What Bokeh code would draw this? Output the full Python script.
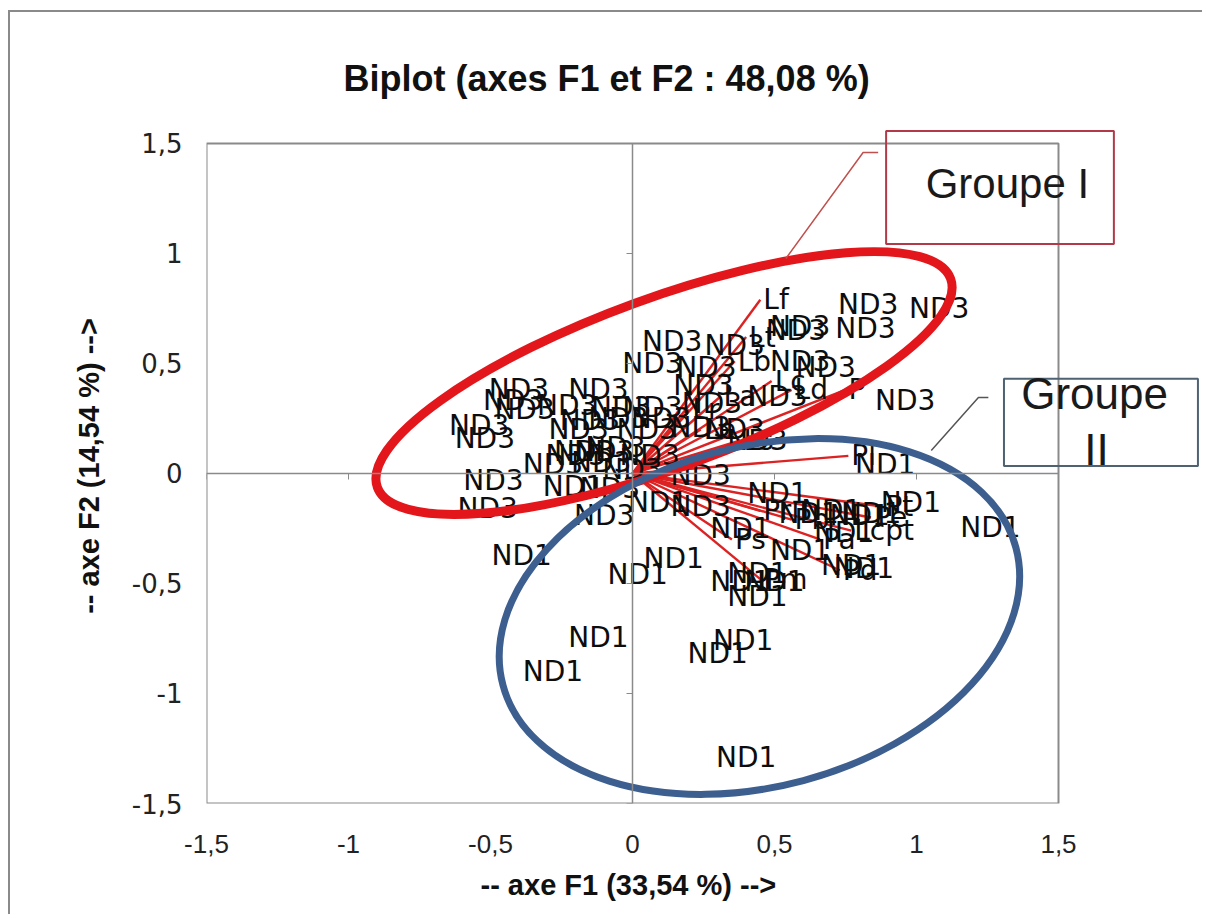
import math
from bokeh.plotting import figure
from bokeh.models import Range1d, LinearAxis, FixedTicker, Label, BoxAnnotation, Title
from bokeh.core.properties import value
from bokeh.embed import file_html
from bokeh.resources import INLINE

TITLE = "Biplot (axes F1 et F2 : 48,08 %)"
X_LABEL = "-- axe F1 (33,54 %) -->"
Y_LABEL = "-- axe F2 (14,54 %) -->"
tick_values = [-1.5, -1.0, -0.5, 0.0, 0.5, 1.0, 1.5]
tick_labels = ["-1,5", "-1", "-0,5", "0", "0,5", "1", "1,5"]

# observations labelled ND3
nd3_x = [1.08, 0.83, 0.59, 0.575, 0.82, 0.14, 0.36, 0.07, 0.26, 0.59, 0.68, 0.25, 0.51, 0.96,
         -0.40, -0.12, -0.42, -0.38, -0.23, -0.04, 0.07, 0.28, -0.54, -0.19, 0.24, 0.36,
         -0.52, 0.44, -0.17, -0.06, 0.06, -0.28, -0.11, -0.49, 0.24, -0.08, 0.24, -0.51,
         -0.10, -0.15, -0.05, 0.05, 0.10, -0.10, 0.00, -0.20]
nd3_y = [0.75, 0.77, 0.67, 0.65, 0.66, 0.60, 0.58, 0.50, 0.48, 0.51, 0.48, 0.40, 0.35, 0.33,
         0.38, 0.38, 0.33, 0.29, 0.31, 0.30, 0.30, 0.32, 0.22, 0.20, 0.21, 0.20,
         0.16, 0.15, 0.10, 0.12, 0.08, 0.04, 0.05, -0.03, -0.01, -0.07, -0.15, -0.16,
         -0.19, 0.24, 0.25, 0.20, 0.25, 0.10, 0.02, 0.08]

# observations labelled ND1
nd1_x = [0.89, 0.98, 1.26, 0.51, 0.70, 0.84, 0.38, 0.62, 0.745, 0.59, 0.77, 0.815, 0.38,
         0.50, 0.44, 0.44, 0.145, 0.018, -0.39, -0.12, -0.28, 0.39, 0.30, 0.40, -0.21,
         0.09, 0.80]
nd1_y = [0.04, -0.13, -0.245, -0.09, -0.17, -0.18, -0.25, -0.18, -0.27, -0.35, -0.42, -0.43,
         -0.49, -0.49, -0.455, -0.56, -0.385, -0.46, -0.375, -0.745, -0.90, -0.76, -0.82,
         -1.29, -0.06, -0.13, -0.19]

# variables (vectors from origin)
var_names = ["Lf", "Lt", "Lb", "Lc", "Ld", "P", "La", "Lr", "Le", "Ls", "Pl",
             "Pt", "Pe", "Lcpt", "Pa", "Pb", "Pr", "Pd", "Pm", "Ps"]
var_x = [0.45, 0.40, 0.36, 0.49, 0.56, 0.75, 0.31, 0.20, 0.24, 0.38, 0.76,
         0.88, 0.84, 0.77, 0.66, 0.56, 0.45, 0.73, 0.45, 0.35]
var_y = [0.79, 0.62, 0.51, 0.42, 0.38, 0.38, 0.35, 0.29, 0.20, 0.15, 0.08,
         -0.15, -0.20, -0.26, -0.30, -0.21, -0.17, -0.44, -0.48, -0.30]

# group ellipses (width in x units, height in y units, angle in degrees on screen)
group_names = ["Groupe I", "Groupe II"]
group_cx = [0.111, 0.447]
group_cy = [0.411, -0.650]
group_w = [2.148, 1.87]
group_h = [0.773, 1.545]
group_angle = [20, 15]
group_colors = ["#e3161b", "#3d5f8f"]
group_widths = [9, 7]

# callouts and boxes for the group names
callout1_x = [0.54, 0.812, 0.865]
callout1_y = [0.977, 1.459, 1.459]
callout2_x = [1.052, 1.218, 1.253]
callout2_y = [0.105, 0.345, 0.345]
box1 = dict(left=0.893, right=1.695, top=1.557, bottom=1.043)
box2 = dict(left=1.308, right=1.991, top=0.430, bottom=0.034)

GRAY = "#8a8a8a"

p = figure(width=1194, height=904, x_range=Range1d(-1.5, 2.0), y_range=Range1d(-1.5, 1.568),
           output_backend="svg", toolbar_location=None,
           min_border_left=196, min_border_right=4, min_border_top=116, min_border_bottom=113)
p.styles = {"margin-left": "8px", "margin-top": "10px",
            "border-top": "2px solid #8a8a8a", "border-left": "2px solid #8a8a8a"}
p.grid.visible = False
p.outline_line_color = None
p.background_fill_color = "white"
p.border_fill_color = "white"

p.title.text = TITLE
p.title.text_font = "Liberation Sans"
p.title.text_font_size = "36px"
p.title.text_font_style = "bold"
p.title.align = "left"
p.title.offset = 137
p.title.standoff = 59
p.title.text_color = "#111111"

overrides = {v: t for v, t in zip(tick_values, tick_labels)}
for ax in (p.xaxis[0], p.yaxis[0]):
    ax.ticker = FixedTicker(ticks=tick_values)
    ax.major_label_overrides = overrides
    ax.axis_line_color = None
    ax.major_tick_line_color = None
    ax.minor_tick_line_color = None
    ax.major_label_text_color = "#222222"

p.xaxis[0].major_label_text_font = "Liberation Sans"
p.xaxis[0].major_label_text_font_size = "26px"
p.xaxis[0].major_label_standoff = 25

p.yaxis[0].axis_label = Y_LABEL
p.yaxis[0].axis_label_text_font = "Liberation Sans"
p.yaxis[0].axis_label_text_font_style = "bold"
p.yaxis[0].axis_label_text_font_size = "29px"
p.yaxis[0].axis_label_text_color = "#111111"
p.yaxis[0].major_label_text_font = "DejaVu Sans"
p.yaxis[0].major_label_text_font_size = "26px"
p.yaxis[0].major_label_standoff = 18
p.yaxis[0].axis_label_standoff = 24

p.add_layout(Title(text=X_LABEL, text_font="Liberation Sans", text_font_size="29px",
                   text_font_style="bold", text_color="#111111", align="left", offset=274,
                   standoff=23), "below")

# plot-area border
p.quad(left=[tick_values[0]], right=[tick_values[-1]], bottom=[tick_values[0]], top=[tick_values[-1]],
       fill_color=None, line_color=GRAY, line_width=2)

# zero lines with small ticks
empty = {v: "" for v in tick_values}
zx = LinearAxis(fixed_location=0, ticker=FixedTicker(ticks=tick_values), axis_line_color=GRAY,
                axis_line_width=1.5, major_tick_line_color=GRAY, major_tick_in=0, major_tick_out=6,
                minor_tick_line_color=None, major_label_overrides=empty,
                bounds=(tick_values[0], tick_values[-1]))
zy = LinearAxis(fixed_location=0, ticker=FixedTicker(ticks=tick_values), axis_line_color=GRAY,
                axis_line_width=1.5, major_tick_line_color=GRAY, major_tick_in=0, major_tick_out=6,
                minor_tick_line_color=None, major_label_overrides=empty,
                bounds=(tick_values[0], tick_values[-1]))
p.add_layout(zx, "below")
p.add_layout(zy, "left")

# vectors
p.segment(x0=[0] * len(var_x), y0=[0] * len(var_y), x1=var_x, y1=var_y,
          line_color="#dc2222", line_width=2.4)

label_font = value("DejaVu Sans")
p.text(x=nd3_x, y=nd3_y, text=["ND3"] * len(nd3_x), text_font=label_font, text_font_size="28px",
       text_align="center", text_baseline="middle", text_color="#0d0d0d")
p.text(x=nd1_x, y=nd1_y, text=["ND1"] * len(nd1_x), text_font=label_font, text_font_size="28px",
       text_align="center", text_baseline="middle", text_color="#0d0d0d")
p.text(x=var_x, y=var_y, text=var_names, text_font=label_font, text_font_size="28px",
       text_align="left", text_baseline="middle", x_offset=3, text_color="#0d0d0d")

# group ellipses
p.ellipse(x=group_cx, y=group_cy, width=group_w, height=group_h,
          angle=[math.radians(a) for a in group_angle], fill_color=None,
          line_color=group_colors, line_width=group_widths)

p.line(callout1_x, callout1_y, line_color="#c0504d", line_width=1.5)
p.line(callout2_x, callout2_y, line_color="#555555", line_width=1.5)

p.add_layout(BoxAnnotation(**box1, fill_alpha=0, line_color="#b23a48", line_width=2, line_alpha=1))
p.add_layout(BoxAnnotation(**box2, fill_alpha=0, line_color="#4f6272", line_width=2, line_alpha=1))

p.add_layout(Label(x=1.32, y=1.318, text=group_names[0], text_align="center", text_baseline="middle",
                   text_font="Liberation Sans", text_font_size="42px", text_color="#1a1a1a"))
p.add_layout(Label(x=1.627, y=0.364, text="Groupe", text_align="center", text_baseline="middle",
                   text_font="Liberation Sans", text_font_size="44px", text_color="#1a1a1a"))
p.add_layout(Label(x=1.634, y=0.11, text="II", text_align="center", text_baseline="middle",
                   text_font="Liberation Sans", text_font_size="44px", text_color="#1a1a1a"))

open("out.html", "w").write(file_html(p, INLINE))
